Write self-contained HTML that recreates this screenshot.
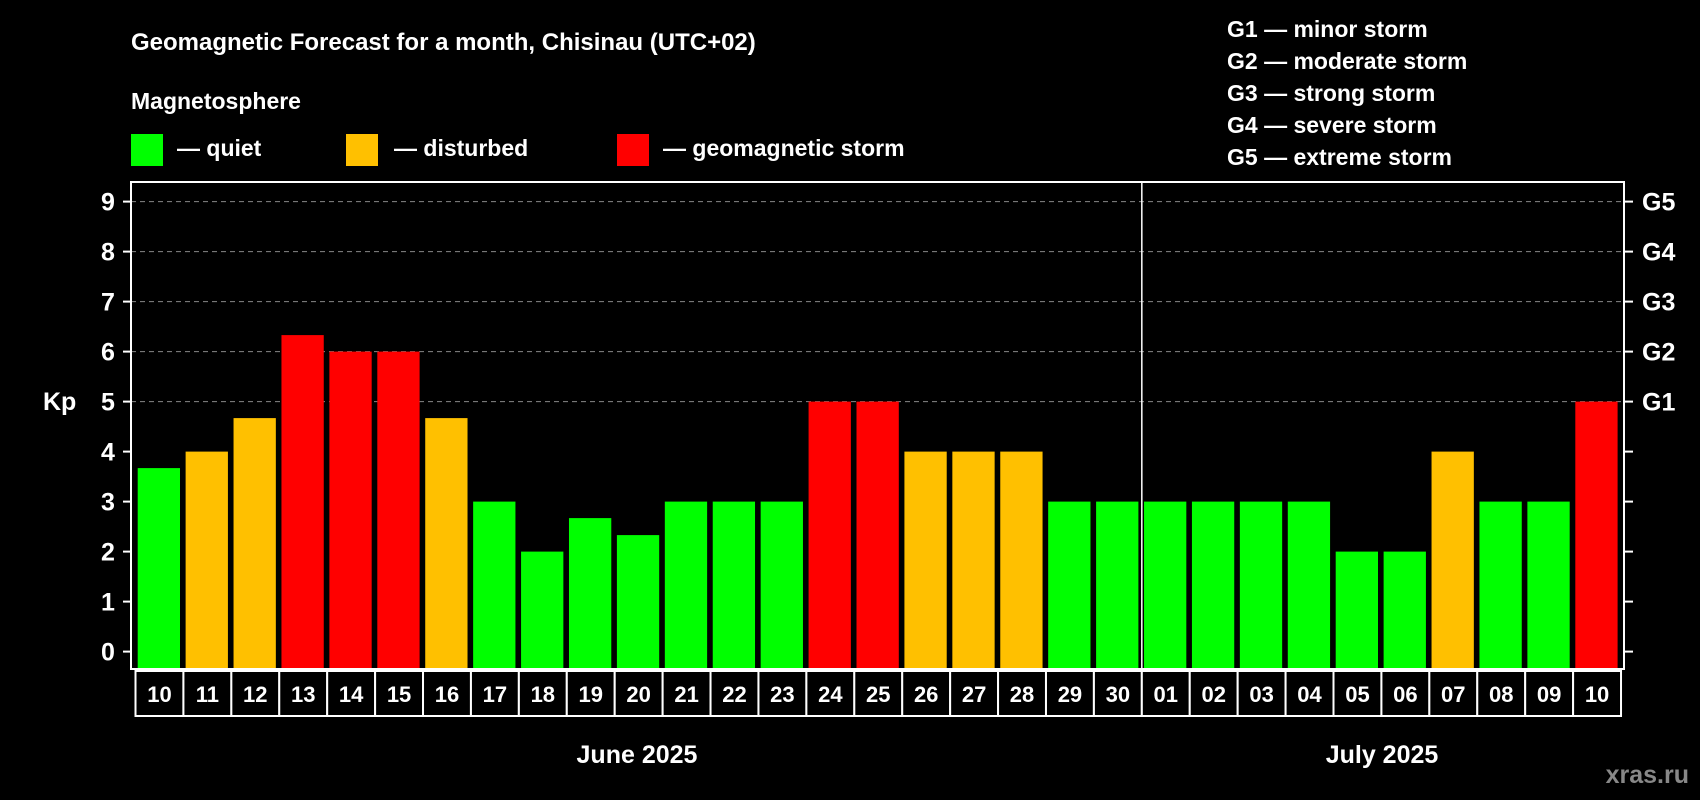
<!DOCTYPE html>
<html><head><meta charset="utf-8"><style>
html,body{margin:0;padding:0;background:#000;}
svg{display:block;font-family:"Liberation Sans",Arial,sans-serif;font-weight:bold;}
</style></head><body>
<svg id="chart" width="1700" height="800" viewBox="0 0 1700 800">
<rect width="1700" height="800" fill="#000"/>
<text x="131" y="50" fill="#fff" font-size="24">Geomagnetic Forecast for a month, Chisinau (UTC+02)</text>
<text x="131" y="109" fill="#fff" font-size="23">Magnetosphere</text>
<g>
<rect x="131" y="134" width="32" height="32" fill="#00ff00"/>
<text x="177" y="156" fill="#fff" font-size="23">— quiet</text>
<rect x="346" y="134" width="32" height="32" fill="#ffc000"/>
<text x="394" y="156" fill="#fff" font-size="23">— disturbed</text>
<rect x="617" y="134" width="32" height="32" fill="#ff0000"/>
<text x="663" y="156" fill="#fff" font-size="23">— geomagnetic storm</text>
</g>
<g fill="#fff" font-size="23">
<text x="1227" y="37">G1 — minor storm</text>
<text x="1227" y="69">G2 — moderate storm</text>
<text x="1227" y="101">G3 — strong storm</text>
<text x="1227" y="133">G4 — severe storm</text>
<text x="1227" y="165">G5 — extreme storm</text>
</g>
<text x="43" y="410" fill="#fff" font-size="25">Kp</text>
<text x="637" y="763" fill="#fff" font-size="25" text-anchor="middle">June 2025</text>
<text x="1382" y="763" fill="#fff" font-size="25" text-anchor="middle">July 2025</text>
<text x="1689" y="783" fill="#888" font-size="25" text-anchor="end">xras.ru</text>
<g id="grid"></g>
<g id="bars"></g>
<g id="axes"></g>
</svg>
<script>
const days = ["10","11","12","13","14","15","16","17","18","19","20","21","22","23","24","25","26","27","28","29","30","01","02","03","04","05","06","07","08","09","10"];
const kpValues = [3.67,4,4.67,6.33,6,6,4.67,3,2,2.67,2.33,3,3,3,5,5,4,4,4,3,3,3,3,3,3,2,2,4,3,3,5];
const yTicks = [0,1,2,3,4,5,6,7,8,9];
const gLabels = ["G1","G2","G3","G4","G5"];
const gLevels = [5,6,7,8,9];
const monthSplitIndex = 21;

const NS = "http://www.w3.org/2000/svg";
const L = 131, R = 1624, T = 182, B = 669;
const y = v => 651.6 - 50 * v;
const pitch = 47.92;
const barX = i => 137.7 + i * pitch;
const barW = 42.3;
const boxX = i => 135.5 + i * pitch;
function mk(tag, attrs, parent) {
  const e = document.createElementNS(NS, tag);
  for (const k in attrs) e.setAttribute(k, attrs[k]);
  parent.appendChild(e); return e;
}
const grid = document.getElementById("grid"), bars = document.getElementById("bars"), axes = document.getElementById("axes");
gLevels.forEach((v, i) => {
  const ln = mk("line", {x1: L, x2: R, y1: y(v), y2: y(v), stroke: "#888", "stroke-width": 1, "stroke-dasharray": "5,4"}, grid);
  
  
});
kpValues.forEach((v, i) => {
  const color = v >= 5 ? "#ff0000" : (v >= 4 ? "#ffc000" : "#00ff00");
  const r = mk("rect", {x: barX(i), y: y(v), width: barW, height: B - y(v), fill: color}, bars);
  
  
});
// frame
const fr = mk("rect", {x: L, y: T, width: R - L, height: B - T, fill: "none", stroke: "#fff", "stroke-width": 2}, axes);


const dv = mk("line", {x1: boxX(monthSplitIndex), x2: boxX(monthSplitIndex), y1: T, y2: B, stroke: "#fff", "stroke-width": 1.5}, axes);


yTicks.forEach(v => {
  const t1 = mk("line", {x1: L - 8, x2: L, y1: y(v), y2: y(v), stroke: "#fff", "stroke-width": 2}, axes);
  
  
  const t2 = mk("line", {x1: R, x2: R + 9, y1: y(v), y2: y(v), stroke: "#fff", "stroke-width": 2}, axes);
  
  
  const tx = mk("text", {x: 108, y: y(v) + 9, fill: "#fff", "font-size": 25, "text-anchor": "middle"}, axes);
  tx.textContent = v;
  
  
});
gLevels.forEach((v, i) => {
  const tx = mk("text", {x: 1642, y: y(v) + 9, fill: "#fff", "font-size": 25}, axes);
  tx.textContent = gLabels[i];
  
  
});
days.forEach((d, i) => {
  const bx = mk("rect", {x: boxX(i), y: 671, width: pitch, height: 45, fill: "#000", stroke: "#fff", "stroke-width": 2}, axes);
  
  
  const tx = mk("text", {x: boxX(i) + pitch / 2, y: 702, fill: "#fff", "font-size": 22, "text-anchor": "middle"}, axes);
  tx.textContent = d;
  
  
});
</script>
</body></html>
